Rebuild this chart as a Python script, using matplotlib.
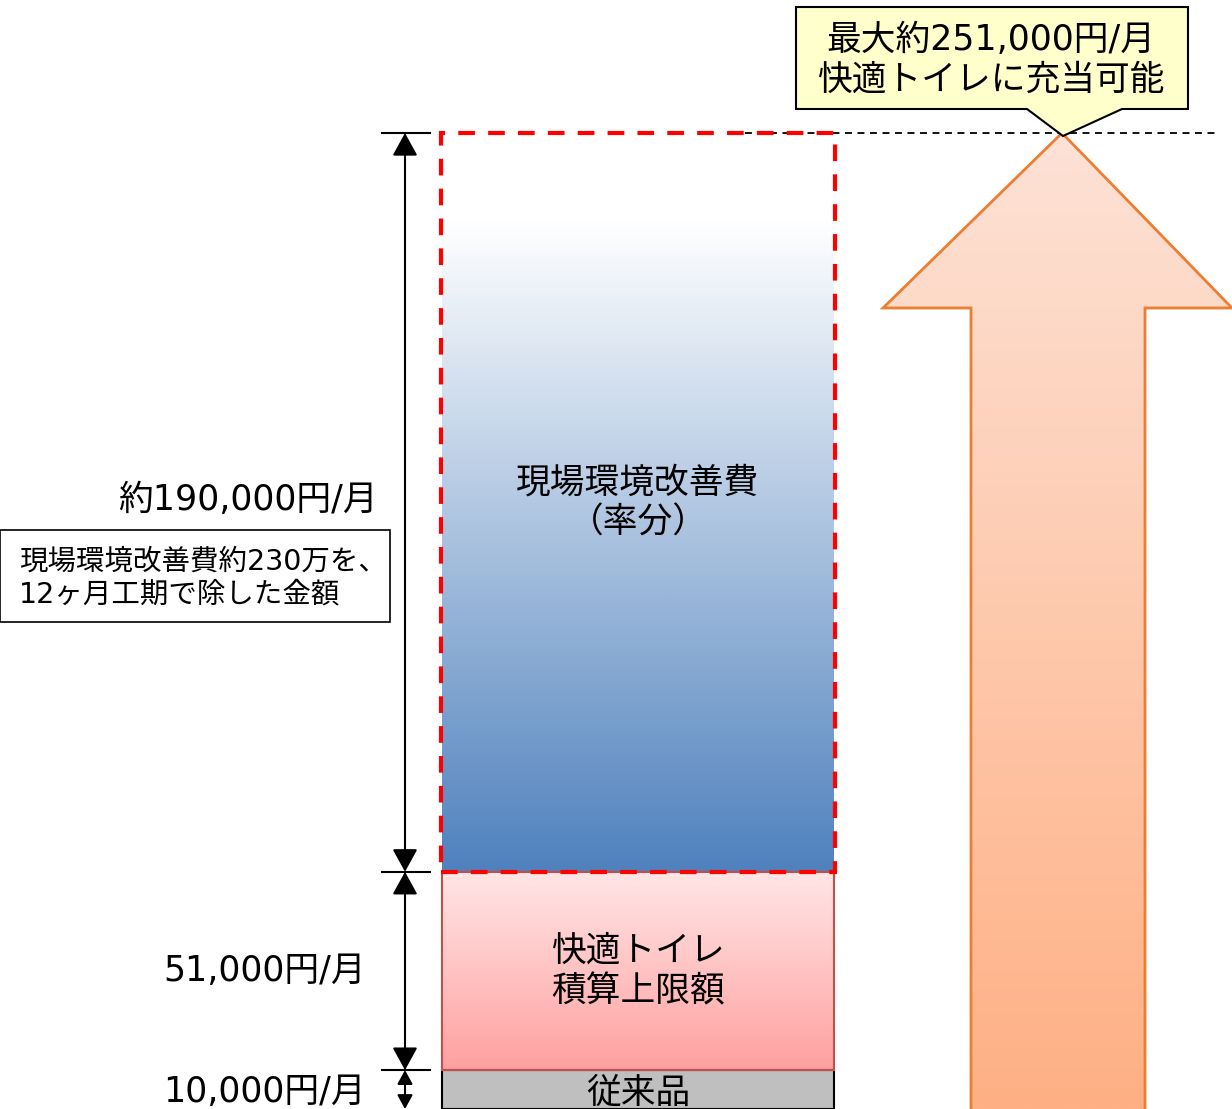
import numpy as np
import matplotlib
matplotlib.use("Agg")
import matplotlib.pyplot as plt
from matplotlib.patches import Rectangle, Polygon

plt.rcParams['font.family'] = ['DejaVu Sans', 'Noto Sans CJK JP']
plt.rcParams['lines.scale_dashes'] = False

# data (yen per month)
categories = ['従来品', '快適トイレ\n積算上限額', '現場環境改善費\n（率分）']
values = [10000, 51000, 190000]
value_labels = ['10,000円/月', '51,000円/月', '約190,000円/月']
total_label = '最大約251,000円/月\n快適トイレに充当可能'
note_label = '現場環境改善費約230万を、\n12ヶ月工期で除した金額'

bottoms = np.concatenate([[0], np.cumsum(values)[:-1]])
total = sum(values)

W, H = 1232, 1109
TOP_PX = 133                      # pixel row of the total
scale = total / (H - TOP_PX)      # yen per pixel
ytop = H * scale


def py(p):
    """pixel row -> data y"""
    return (H - p) * scale


def vgrad(ax, x0, x1, y0, y1, c_top, c_bot, clip=None, start=0.0, z=1):
    n = 256
    t = np.linspace(0, 1, n)
    t = np.clip((t - start) / (1 - start), 0, 1)
    c_top = np.array(c_top) / 255.0
    c_bot = np.array(c_bot) / 255.0
    arr = (c_top[None, :] * (1 - t[:, None]) + c_bot[None, :] * t[:, None])[:, None, :]
    im = ax.imshow(arr, extent=[x0, x1, y0, y1], aspect='auto',
                   interpolation='bilinear', zorder=z)
    if clip is not None:
        im.set_clip_path(clip)
    return im


fig = plt.figure(figsize=(W / 100, H / 100), dpi=100)
ax = fig.add_axes([0, 0, 1, 1])

bx0, bx1 = 442, 834
fill_top = [(255, 230, 230), (255, 230, 230), (255, 255, 255)]
fill_bot = [(190, 190, 190), (255, 160, 160), (79, 129, 189)]

# gray base
ax.add_patch(Rectangle((bx0, bottoms[0]), bx1 - bx0, values[0], facecolor='#bfbfbf',
                       edgecolor='black', lw=1.5, zorder=3))
# pink segment
vgrad(ax, bx0, bx1, bottoms[1], bottoms[1] + values[1], fill_top[1], fill_bot[1], z=2)
ax.add_patch(Rectangle((bx0, bottoms[1]), bx1 - bx0, values[1], facecolor='none',
                       edgecolor='#c0504d', lw=1.5, zorder=3))
# blue segment
vgrad(ax, bx0, bx1, bottoms[2], bottoms[2] + values[2], fill_top[2], fill_bot[2],
      start=0.12, z=2)
ax.add_patch(Rectangle((bx0 - 1, bottoms[2]), bx1 - bx0 + 2, values[2], facecolor='none',
                       edgecolor='#ff0000', lw=3, linestyle=(0, (12, 9.5)), zorder=4))

# segment labels
for b, v, c in zip(bottoms, values, categories):
    ax.text((bx0 + bx1) / 2, b + v / 2 + (0 if v > 20000 else -800), c, ha='center', va='center',
            fontsize=25, linespacing=1.22, zorder=5)

# dimension lines
dim_x = 405
for lvl in [bottoms[1], bottoms[2], total]:
    ax.plot([382, 430], [lvl, lvl], color='black', lw=1.5, zorder=3)
for b, v in zip(bottoms, values):
    hs = 0.6 if v < 20000 else 1.0
    ax.annotate('', xy=(dim_x, b), xytext=(dim_x, b + v),
                arrowprops=dict(arrowstyle='<|-|>,head_length=%.2f,head_width=%.2f' % (hs, hs * 0.55),
                                mutation_scale=14, color='black', lw=1.5,
                                shrinkA=0, shrinkB=0), zorder=3)

# value labels
label_right = [366, 366, 378]
for b, v, lab, xr in zip(bottoms, values, value_labels, label_right):
    yc = b + v / 2 if v > 20000 else py(1092)
    ax.text(xr, yc + (py(500) - (b + v / 2) if v > 100000 else 0), lab,
            ha='right', va='center', fontsize=25, zorder=5)

# note box
ax.add_patch(Rectangle((0, py(622)), 390, py(530) - py(622), facecolor='white',
                       edgecolor='black', lw=1.2, zorder=4))
ax.text(19, py(578), note_label, ha='left', va='center', fontsize=20.5,
        linespacing=1.22, zorder=5)

# big arrow
arrow_pts = [(971, py(1130)), (971, py(308)), (883, py(308)), (1062, total),
             (1232, py(308)), (1145, py(308)), (1145, py(1130))]
arrow = Polygon(arrow_pts, closed=True, facecolor='none', edgecolor='#ed7d31',
                lw=2, zorder=3)
ax.add_patch(arrow)
vgrad(ax, 883, 1232, py(1109), total, (253, 226, 214), (255, 176, 132), clip=arrow, z=2)

# dashed line at the total
ax.plot([745, 1215], [total, total], color='black', lw=1.3, linestyle=(0, (5, 4)), zorder=3)

# callout
callout_pts = [(796, py(7)), (1188, py(7)), (1188, py(109)), (1122, py(109)),
               (1063, py(136)), (1027, py(109)), (796, py(109))]
ax.add_patch(Polygon(callout_pts, closed=True, facecolor='#ffffcc', edgecolor='black',
                     lw=1.5, zorder=6))
ax.text(991, py(60), total_label, ha='center', va='center', fontsize=25,
        linespacing=1.22, zorder=7)

ax.set_xlim(0, W)
ax.set_ylim(0, ytop)
ax.axis('off')
fig.savefig('out.png', dpi=100)
